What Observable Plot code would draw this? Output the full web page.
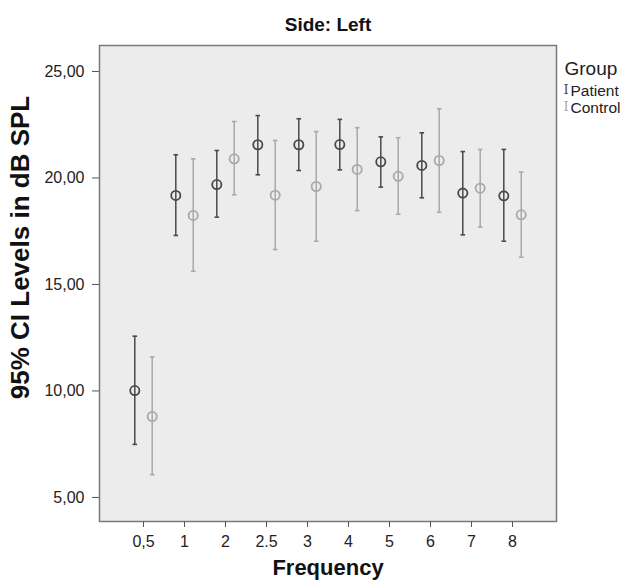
<!DOCTYPE html>
<html><head><meta charset="utf-8">
<script src="https://cdn.jsdelivr.net/npm/d3@7"></script>
<script src="https://cdn.jsdelivr.net/npm/@observablehq/plot@0.6"></script>
<style>html,body{margin:0;padding:0;background:#fff;}</style>
</head><body><div id="chart"></div>
<script>
const frequencies = ["0,5","1","2","2.5","3","4","5","6","7","8"];
const groups = ["Patient","Control"];
const patientMean = [10.02,19.18,19.69,21.56,21.56,21.57,20.76,20.59,19.29,19.16];
const patientLow  = [7.49,17.30,18.16,20.15,20.35,20.38,19.57,19.07,17.33,17.03];
const patientHigh = [12.57,21.09,21.29,22.93,22.78,22.75,21.93,22.12,21.24,21.34];
const controlMean = [8.80,18.24,20.90,19.19,19.60,20.40,20.08,20.82,19.52,18.27];
const controlLow  = [6.07,15.62,19.21,16.64,17.03,18.47,18.30,18.39,17.69,16.28];
const controlHigh = [11.59,20.90,22.65,21.76,22.18,22.36,21.89,23.25,21.34,20.27];
const yTicks = [5,10,15,20,25];

const colors = {Patient: "#4a4a4a", Control: "#a9a9a9"};
const offsets = {Patient: -8.7, Control: 8.7};

const patient = frequencies.map((f,i) => ({f, group:"Patient", mean:patientMean[i], low:patientLow[i], high:patientHigh[i]}));
const control = frequencies.map((f,i) => ({f, group:"Control", mean:controlMean[i], low:controlLow[i], high:controlHigh[i]}));

// horizontal line symbol for error-bar caps
const capSymbol = {
  draw(context, size) {
    const r = Math.sqrt(size / Math.PI);
    context.moveTo(-r, 0);
    context.lineTo(r, 0);
  }
};

function groupMarks(data, g) {
  const c = colors[g], dx = offsets[g];
  return [
    Plot.ruleX(data, {x:"f", y1:"low", y2:"high", dx, stroke:c, strokeWidth:1.5}),
    Plot.dot(data, {x:"f", y:"low", dx, r:2.3, symbol: capSymbol, stroke:c, strokeWidth:1.6, fill:"none"}),
    Plot.dot(data, {x:"f", y:"high", dx, r:2.3, symbol: capSymbol, stroke:c, strokeWidth:1.6, fill:"none"}),
    Plot.dot(data, {x:"f", y:"mean", dx, r:4.6, stroke:c, strokeWidth:1.8, fill:"none"})
  ];
}

const font = "Liberation Sans, Arial, Helvetica, sans-serif";

const chart = Plot.plot({
  width: 620,
  height: 582,
  marginTop: 45,
  marginBottom: 61,
  marginLeft: 99,
  marginRight: 64,
  style: {fontFamily: font, fontSize: "16px", color: "#222", background: "#fff"},
  x: {type: "point", domain: frequencies, padding: 0.95},
  y: {domain: [3.87, 26.22]},
  marks: [
    Plot.frame({fill: "#ececec"}),
    ...groupMarks(control, "Control"),
    ...groupMarks(patient, "Patient"),
    Plot.frame({stroke: "#7a7a7a", strokeWidth: 1.5}),
    Plot.axisX({tickSize: 6, tickPadding: 8, fontSize: 16, label: null, stroke: "#555"}),
    Plot.axisY({ticks: yTicks, tickFormat: d => d.toFixed(2).replace(".", ","), tickSize: 7, tickPadding: 8, fontSize: 16, label: null, stroke: "#555"}),
    Plot.text(["Side: Left"], {frameAnchor: "top", dy: -28, fontSize: 19, fontWeight: "bold", fill: "#111"}),
    Plot.text(["Frequency"], {frameAnchor: "bottom", dy: 53, fontSize: 22, fontWeight: "bold", fill: "#111"}),
    Plot.text(["95% CI Levels in dB SPL"], {frameAnchor: "left", textAnchor: "middle", rotate: -90, dx: -79, dy: -36, fontSize: 26, fontWeight: "bold", fill: "#111"}),
    Plot.text(["Group"], {frameAnchor: "top-right", textAnchor: "start", dx: 8, dy: 16, fontSize: 19, fill: "#222"}),
    Plot.text(["I"], {frameAnchor: "top-right", textAnchor: "start", dx: 7, dy: 39, fontSize: 13, fontFamily: "DejaVu Serif, serif", fill: colors.Patient}),
    Plot.text([groups[0]], {frameAnchor: "top-right", textAnchor: "start", dx: 14, dy: 39, fontSize: 15.5, fill: "#222"}),
    Plot.text(["I"], {frameAnchor: "top-right", textAnchor: "start", dx: 7, dy: 56, fontSize: 13, fontFamily: "DejaVu Serif, serif", fill: colors.Control}),
    Plot.text([groups[1]], {frameAnchor: "top-right", textAnchor: "start", dx: 14, dy: 56, fontSize: 15.5, fill: "#222"})
  ]
});
document.getElementById("chart").appendChild(chart);
</script>
</body></html>
